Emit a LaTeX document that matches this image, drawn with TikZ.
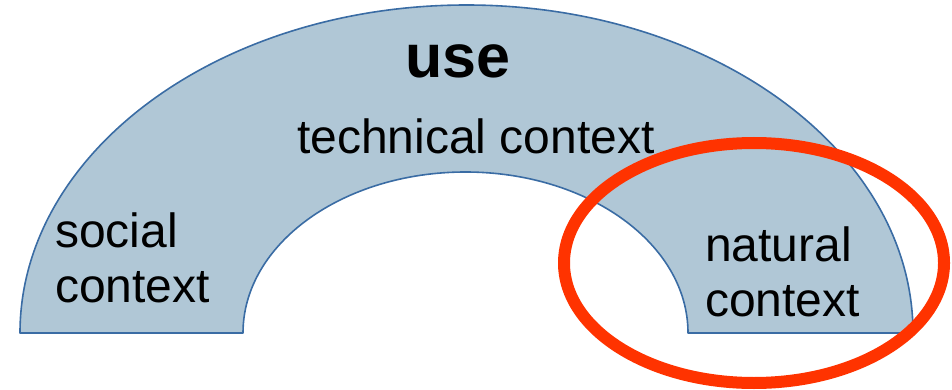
\documentclass[tikz,border=0pt]{standalone}
\usepackage{fontspec}
\setmainfont{Liberation Sans}
\definecolor{archfill}{HTML}{B0C7D6}
\definecolor{archline}{HTML}{3A6CA4}
\definecolor{ringred}{HTML}{FF3300}
\begin{document}
\begin{tikzpicture}[x=1pt,y=-1pt,
  label/.style={anchor=base west,inner sep=0pt,font=\fontsize{48}{55}\selectfont,align=left},
  title/.style={anchor=base west,inner sep=0pt,font=\fontsize{61}{61}\selectfont\bfseries}]
  \useasboundingbox (0,0) rectangle (952,390);
  % half-ring of use contexts
  \draw[archline,fill=archfill,line width=1.6pt,line join=round]
    (20,333) arc[start angle=180,end angle=360,x radius=446.5,y radius=328]
    -- (688,333) arc[start angle=360,end angle=180,x radius=222.5,y radius=161]
    -- cycle;
  \node[title] (use) at (405,78) {use};
  \node[label] (tech) at (297,154) {technical context};
  % two-line labels: the base anchor sits on the last line
  \node[label] (social) at (55,302) {social\\context};
  \node[label] (natural) at (705,316) {natural\\context};
  % highlight ring
  \draw[ringred,line width=12pt] (754,263) ellipse [x radius=190,y radius=120];
\end{tikzpicture}
\end{document}
